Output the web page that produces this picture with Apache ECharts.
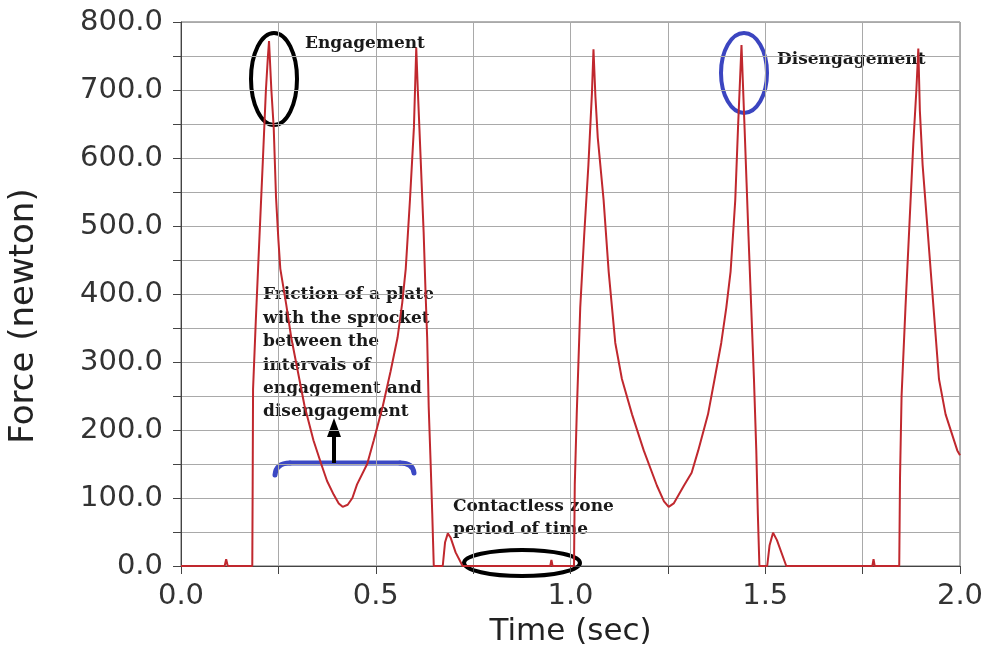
<!DOCTYPE html>
<html>
<head>
<meta charset="utf-8">
<script src="https://cdn.jsdelivr.net/npm/echarts@6/dist/echarts.min.js"></script>
<style>html,body{margin:0;padding:0;background:#fff}#chart{width:985px;height:649px}</style>
</head>
<body>
<div id="chart"></div>
<script>
// Time (sec) values
const timeSec = [
  0.000, 0.112, 0.116, 0.120, 0.183,
  0.184, 0.185, 0.192, 0.198, 0.205, 0.210, 0.218, 0.223, 0.226,
  0.232, 0.238, 0.244, 0.250, 0.255, 0.270, 0.283, 0.300, 0.317, 0.340, 0.360, 0.375, 0.392, 0.405, 0.415,
  0.428, 0.440, 0.452, 0.478, 0.495, 0.518, 0.538, 0.556, 0.568, 0.577, 0.588, 0.598, 0.604,
  0.608, 0.612, 0.623, 0.628, 0.632, 0.636, 0.641, 0.645, 0.649,
  0.672, 0.678, 0.685, 0.692, 0.705, 0.723,
  0.948, 0.951, 0.954, 1.009,
  1.011, 1.016, 1.025, 1.035, 1.046, 1.055, 1.059,
  1.064, 1.070, 1.085, 1.098, 1.115, 1.132, 1.158, 1.188, 1.222, 1.240, 1.252,
  1.265, 1.291, 1.311, 1.328, 1.353, 1.370, 1.387, 1.400, 1.411, 1.417, 1.423, 1.430, 1.439,
  1.447, 1.452, 1.457, 1.464, 1.471, 1.477, 1.481, 1.485,
  1.505, 1.511, 1.520, 1.530, 1.554,
  1.775, 1.778, 1.781, 1.844,
  1.846, 1.850, 1.860, 1.870, 1.880, 1.888, 1.893,
  1.897, 1.904, 1.918, 1.932, 1.946, 1.963, 1.993, 2.000
];
// Force (newton) values
const forceN = [
  0, 0, 10, 0, 0,
  120, 260, 360, 439, 530, 594, 700, 748, 772,
  700, 645, 542, 480, 437, 385, 336, 286, 236, 185, 150, 125, 105, 92, 87,
  90, 100, 120, 150, 185, 235, 286, 336, 387, 437, 540, 645, 762,
  700, 645, 490, 400, 336, 233, 150, 78, 0,
  0, 35, 48, 42, 20, 0,
  0, 9, 0, 0,
  120, 223, 380, 485, 590, 695, 760,
  690, 630, 538, 433, 328, 275, 223, 170, 118, 95, 87,
  92, 118, 137, 170, 223, 275, 328, 380, 433, 485, 538, 643, 766,
  643, 564, 485, 380, 275, 170, 76, 0,
  0, 30, 49, 38, 0,
  0, 10, 0, 0,
  130, 250, 380, 500, 620, 700, 761,
  669, 590, 485, 380, 275, 223, 170, 163
];
const xTickLabels = ['0.0', '0.5', '1.0', '1.5', '2.0'];
const yTickLabels = ['0.0', '100.0', '200.0', '300.0', '400.0', '500.0', '600.0', '700.0', '800.0'];
const frictionLines = ['Friction of a plate', 'with the sprocket', 'between the', 'intervals of', 'engagement and', 'disengagement'];

const chart = echarts.init(document.getElementById('chart'), null, {renderer: 'canvas'});
const seriesData = timeSec.map((t, i) => [t, forceN[i]]);
const axisFont = '"DejaVu Sans", sans-serif';
const annFont = 'bold 17px "DejaVu Serif", serif';
const blue = '#3b48c4';

const graphics = [
  {type: 'ellipse', shape: {cx: 274, cy: 79, rx: 23, ry: 46}, style: {fill: 'none', stroke: '#000', lineWidth: 4}},
  {type: 'text', x: 305, y: 44, style: {text: 'Engagement', font: annFont, fill: '#1a1a1a', verticalAlign: 'middle'}},
  {type: 'ellipse', shape: {cx: 744, cy: 73, rx: 23, ry: 40}, style: {fill: 'none', stroke: '#3b45c0', lineWidth: 4}},
  {type: 'text', x: 777, y: 60, style: {text: 'Disengagement', font: annFont, fill: '#1a1a1a', verticalAlign: 'middle'}},
  {type: 'text', x: 453, y: 507, style: {text: 'Contactless zone', font: annFont, fill: '#1a1a1a', verticalAlign: 'middle'}},
  {type: 'text', x: 453, y: 530, style: {text: 'period of time', font: annFont, fill: '#1a1a1a', verticalAlign: 'middle'}},
  {type: 'ellipse', shape: {cx: 522, cy: 563, rx: 58, ry: 13}, style: {fill: 'none', stroke: '#000', lineWidth: 4}},
  {type: 'bezierCurve', shape: {x1: 275, y1: 475, cpx1: 276, cpy1: 463, x2: 290, y2: 463}, style: {fill: 'none', stroke: blue, lineWidth: 5, lineCap: 'round'}},
  {type: 'line', shape: {x1: 290, y1: 463, x2: 400, y2: 463}, style: {stroke: blue, lineWidth: 5, lineCap: 'round'}},
  {type: 'bezierCurve', shape: {x1: 400, y1: 463, cpx1: 413, cpy1: 463, x2: 414, y2: 473}, style: {fill: 'none', stroke: blue, lineWidth: 5, lineCap: 'round'}},
  {type: 'rect', shape: {x: 332, y: 434, width: 4, height: 29}, style: {fill: '#000'}},
  {type: 'polygon', shape: {points: [[327, 437], [341, 437], [334, 418]]}, style: {fill: '#000'}}
];
frictionLines.forEach((line, i) => {
  graphics.push({type: 'text', x: 263, y: 295 + i * 23.4, style: {text: line, font: annFont, fill: '#1a1a1a', verticalAlign: 'middle'}});
});

chart.setOption({
  animation: false,
  backgroundColor: '#fff',
  grid: {left: 181, right: 25, top: 22, bottom: 83, show: true, borderColor: '#666', borderWidth: 1, outerBoundsMode: 'none', containLabel: false},
  xAxis: {
    type: 'value', min: 0, max: 2, interval: 0.25,
    name: 'Time (sec)', nameLocation: 'middle', nameGap: 50,
    nameTextStyle: {fontFamily: axisFont, fontSize: 31, color: '#222'},
    axisLine: {show: true, lineStyle: {color: '#444', width: 1}},
    axisTick: {show: true, length: 8, lineStyle: {color: '#444'}},
    axisLabel: {
      fontFamily: axisFont, fontSize: 29, color: '#333', margin: 16,
      formatter: v => { const k = Math.round(v * 2); return Math.abs(v * 2 - k) < 1e-6 ? xTickLabels[k] : ''; }
    },
    splitLine: {show: true, lineStyle: {color: '#a9a9a9', width: 1}}
  },
  yAxis: {
    type: 'value', min: 0, max: 800, interval: 50,
    name: 'Force (newton)', nameLocation: 'middle', nameGap: 140,
    nameTextStyle: {fontFamily: axisFont, fontSize: 34, color: '#222', padding: [0, 44, 0, 0]},
    axisLine: {show: true, lineStyle: {color: '#444', width: 1}},
    axisTick: {show: true, length: 8, lineStyle: {color: '#444'}},
    axisLabel: {
      fontFamily: axisFont, fontSize: 29, color: '#333', margin: 18,
      formatter: v => { const k = Math.round(v / 100); return Math.abs(v - k * 100) < 1e-6 ? yTickLabels[k] : ''; }
    },
    splitLine: {show: true, lineStyle: {color: '#a9a9a9', width: 1}}
  },
  series: [{
    type: 'line', data: seriesData, showSymbol: false, smooth: false,
    lineStyle: {color: '#c0282e', width: 2}
  }],
  graphic: graphics
});
</script>
</body>
</html>
